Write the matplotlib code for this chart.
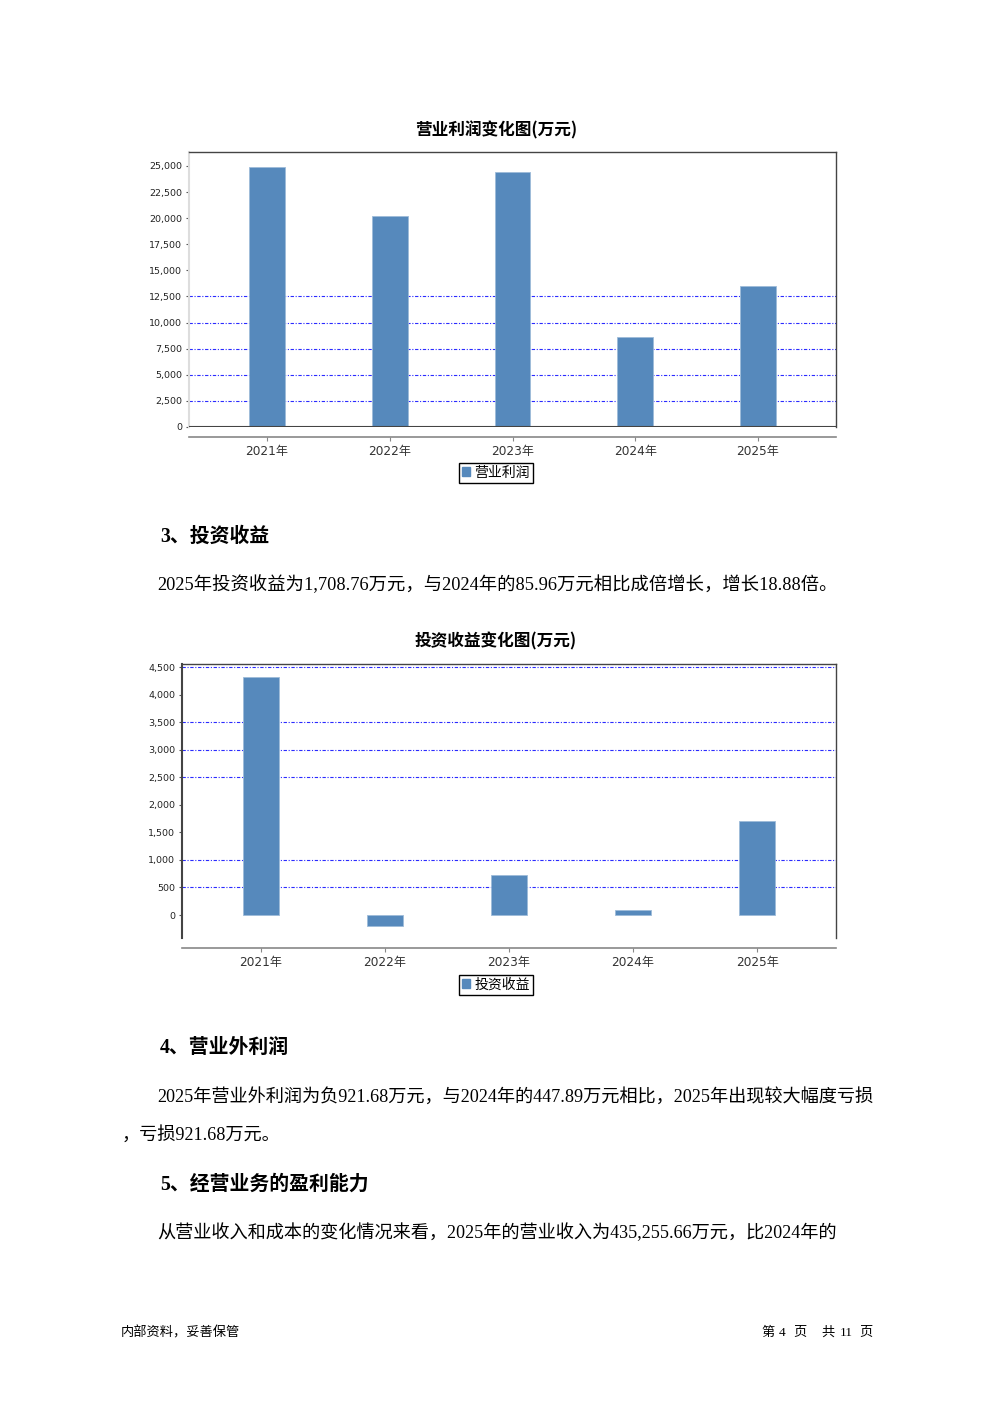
import matplotlib
matplotlib.use("Agg")
import matplotlib.pyplot as plt
from matplotlib.patches import Patch
from matplotlib.ticker import FuncFormatter

years = ["2021年", "2022年", "2023年", "2024年", "2025年"]
op_profit = [24950, 20200, 24420, 8620, 13500]
invest_income = [4319, -200, 726, 85.96, 1708.76]

op_ticks = list(range(0, 25001, 2500))
op_grid = [2500, 5000, 7500, 10000, 12500]
inv_ticks = list(range(0, 4501, 500))
inv_grid = [500, 1000, 2500, 3000, 3500, 4500]

BAR = "#5689bc"
GRID = "#2b2bff"
CJK = ["Noto Sans CJK SC", "DejaVu Sans"]
BODY = ["Liberation Serif", "Noto Sans CJK SC"]
plt.rcParams["font.family"] = ["DejaVu Sans", "Noto Sans CJK SC"]

W, H = 992, 1403
fig = plt.figure(figsize=(W / 100, H / 100), dpi=100)


def fx(px):
    return px / W


def fy(py):
    return 1 - py / H


def bar_panel(left, right, top, bottom, values, ylim, ticks, grid, zero_line, left_color):
    ax = fig.add_axes([fx(left), fy(bottom), fx(right - left), (bottom - top) / H])
    x = range(len(years))
    for g in grid:
        ax.axhline(g, color=GRID, lw=0.8, ls=(0, (3, 1.5, 1, 1.5)), zorder=1)
    ax.bar(x, values, width=0.29, color=BAR, edgecolor="#9dbbd9", lw=0.6, zorder=2)
    if zero_line:
        ax.axhline(0, color="#444444", lw=1.5, zorder=3)
    ax.set_xlim(-0.635, len(years) - 1 + 0.635)
    ax.set_ylim(*ylim)
    ax.set_yticks(ticks)
    ax.yaxis.set_major_formatter(FuncFormatter(lambda v, p: f"{int(v):,}"))
    ax.set_xticks(list(x))
    ax.set_xticklabels(years)
    ax.tick_params(axis="y", labelsize=6.8, length=2, pad=3, colors="#555555", labelcolor="#222222")
    ax.tick_params(axis="x", labelsize=8.7, length=3, pad=3, colors="#888888", labelcolor="#333333")
    for s in ["top", "right"]:
        ax.spines[s].set_color("#444444")
        ax.spines[s].set_linewidth(1)
    ax.spines["left"].set_color(left_color)
    ax.spines["left"].set_linewidth(1.5)
    ax.spines["bottom"].set_position(("outward", 7.2))
    ax.spines["bottom"].set_color("#888888")
    ax.spines["bottom"].set_linewidth(1.2)
    return ax


def legend_box(label, py):
    fig.legend(handles=[Patch(facecolor=BAR, edgecolor=BAR, label=label)],
               loc="upper center", bbox_to_anchor=(fx(496), fy(py)),
               bbox_transform=fig.transFigure, prop={"family": CJK, "size": 10},
               frameon=True, fancybox=False, edgecolor="black", framealpha=1,
               handlelength=0.6, handleheight=0.6, handletextpad=0.3,
               borderpad=0.2, borderaxespad=0)


# chart 1
fig.text(fx(496), fy(130), "营业利润变化图(万元)", ha="center", va="center",
         family=CJK, fontsize=12, weight="bold")
bar_panel(189, 836, 152, 427, op_profit, (0, 26340), op_ticks, op_grid, True, "#dddddd")
legend_box("营业利润", 463)

# text blocks
fig.text(fx(160), fy(537), "3、投资收益", ha="left", va="center",
         family=BODY, fontsize=14.3, weight="bold")
fig.text(fx(157), fy(585), "2025年投资收益为1,708.76万元，与2024年的85.96万元相比成倍增长，增长18.88倍。",
         ha="left", va="center", family=BODY, fontsize=13.2)

# chart 2
fig.text(fx(496), fy(641), "投资收益变化图(万元)", ha="center", va="center",
         family=CJK, fontsize=12, weight="bold")
bar_panel(182, 836, 664, 938, invest_income, (-417, 4555), inv_ticks, inv_grid, False, "#444444")
legend_box("投资收益", 975)

fig.text(fx(160), fy(1048), "4、营业外利润", ha="left", va="center",
         family=BODY, fontsize=14.3, weight="bold")
fig.text(fx(157), fy(1097), "2025年营业外利润为负921.68万元，与2024年的447.89万元相比，2025年出现较大幅度亏损",
         ha="left", va="center", family=BODY, fontsize=13.1)
fig.text(fx(122), fy(1135), "，亏损921.68万元。", ha="left", va="center", family=BODY, fontsize=13.1)
fig.text(fx(160), fy(1185), "5、经营业务的盈利能力", ha="left", va="center",
         family=BODY, fontsize=14.3, weight="bold")
fig.text(fx(157), fy(1233), "从营业收入和成本的变化情况来看，2025年的营业收入为435,255.66万元，比2024年的",
         ha="left", va="center", family=BODY, fontsize=13.1)

# footer
fig.text(fx(121), fy(1333), "内部资料，妥善保管", ha="left", va="center", family=BODY, fontsize=9.5)
for txt, px in [("第", 761), ("4", 779), ("页", 793), ("共", 821), ("11", 840), ("页", 859)]:
    fig.text(fx(px), fy(1333), txt, ha="left", va="center", family=BODY, fontsize=9.5)

fig.savefig("out.png", dpi=100)
plt.close(fig)
